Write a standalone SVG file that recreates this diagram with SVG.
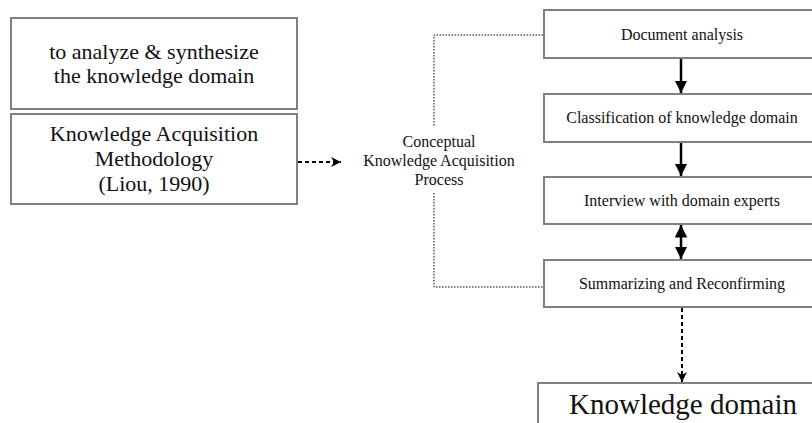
<svg xmlns="http://www.w3.org/2000/svg" width="812" height="423" viewBox="0 0 812 423">
<defs>
<style>
.box{fill:#fff;stroke:#808080;stroke-width:2}
.t{font-family:"Liberation Serif","Times New Roman",serif;fill:#111;text-anchor:middle}
.solid{stroke:#000;stroke-width:2.5;fill:none}
.dash{stroke:#000;stroke-width:2;stroke-dasharray:4 3;fill:none}
.dot{stroke:#000;stroke-width:1;stroke-dasharray:1.5 1.5;fill:none}
</style>
<marker id="ah" viewBox="0 0 10 10" refX="10" refY="5" markerWidth="5" markerHeight="5" markerUnits="strokeWidth" orient="auto-start-reverse">
<path d="M0,0 L10,5 L0,10 Z" fill="#000"/>
</marker>
<marker id="ahs" viewBox="0 0 10 10" refX="10" refY="5" markerWidth="5" markerHeight="5" markerUnits="strokeWidth" orient="auto">
<path d="M0,0 L10,5 L0,10 L3,5 Z" fill="#000"/>
</marker>
</defs>
<rect width="812" height="423" fill="#fff"/>
<g id="goal">
<rect class="box" x="11" y="18" width="286" height="91"/>
<text class="t" x="154" y="59" font-size="22">to analyze &amp; synthesize</text>
<text class="t" x="154" y="83" font-size="22">the knowledge domain</text>
</g>
<g id="method">
<rect class="box" x="11" y="114" width="286" height="90"/>
<text class="t" x="154" y="141" font-size="22">Knowledge Acquisition</text>
<text class="t" x="154" y="166" font-size="22">Methodology</text>
<text class="t" x="154" y="191" font-size="22">(Liou, 1990)</text>
</g>
<g id="process">
<text class="t" x="439" y="147" font-size="16">Conceptual</text>
<text class="t" x="439" y="166" font-size="16">Knowledge Acquisition</text>
<text class="t" x="439" y="185" font-size="16">Process</text>
</g>
<g id="doc">
<rect class="box" x="544" y="10" width="280" height="48"/>
<text class="t" x="682" y="40" font-size="16">Document analysis</text>
</g>
<g id="classify">
<rect class="box" x="544" y="94" width="280" height="48"/>
<text class="t" x="682" y="123" font-size="16">Classification of knowledge domain</text>
</g>
<g id="interview">
<rect class="box" x="544" y="177" width="280" height="47"/>
<text class="t" x="682" y="206" font-size="16">Interview with domain experts</text>
</g>
<g id="summary">
<rect class="box" x="544" y="260" width="280" height="47"/>
<text class="t" x="682" y="289" font-size="16">Summarizing and Reconfirming</text>
</g>
<g id="domain">
<rect class="box" x="538" y="383" width="290" height="60"/>
<text class="t" x="683" y="414" font-size="29">Knowledge domain</text>
</g>
<g id="connectors">
<line class="dash" x1="298" y1="162" x2="341" y2="162" marker-end="url(#ahs)"/>
<polyline class="dot" points="543,35 434,35 434,127"/>
<polyline class="dot" points="434,193 434,287 543,287"/>
<line class="solid" x1="681" y1="59" x2="681" y2="93" marker-end="url(#ah)"/>
<line class="solid" x1="681" y1="143" x2="681" y2="176" marker-end="url(#ah)"/>
<line class="solid" x1="681" y1="225" x2="681" y2="259" marker-start="url(#ah)" marker-end="url(#ah)"/>
<line class="dash" x1="682" y1="308" x2="682" y2="382" marker-end="url(#ahs)"/>
</g>
</svg>
